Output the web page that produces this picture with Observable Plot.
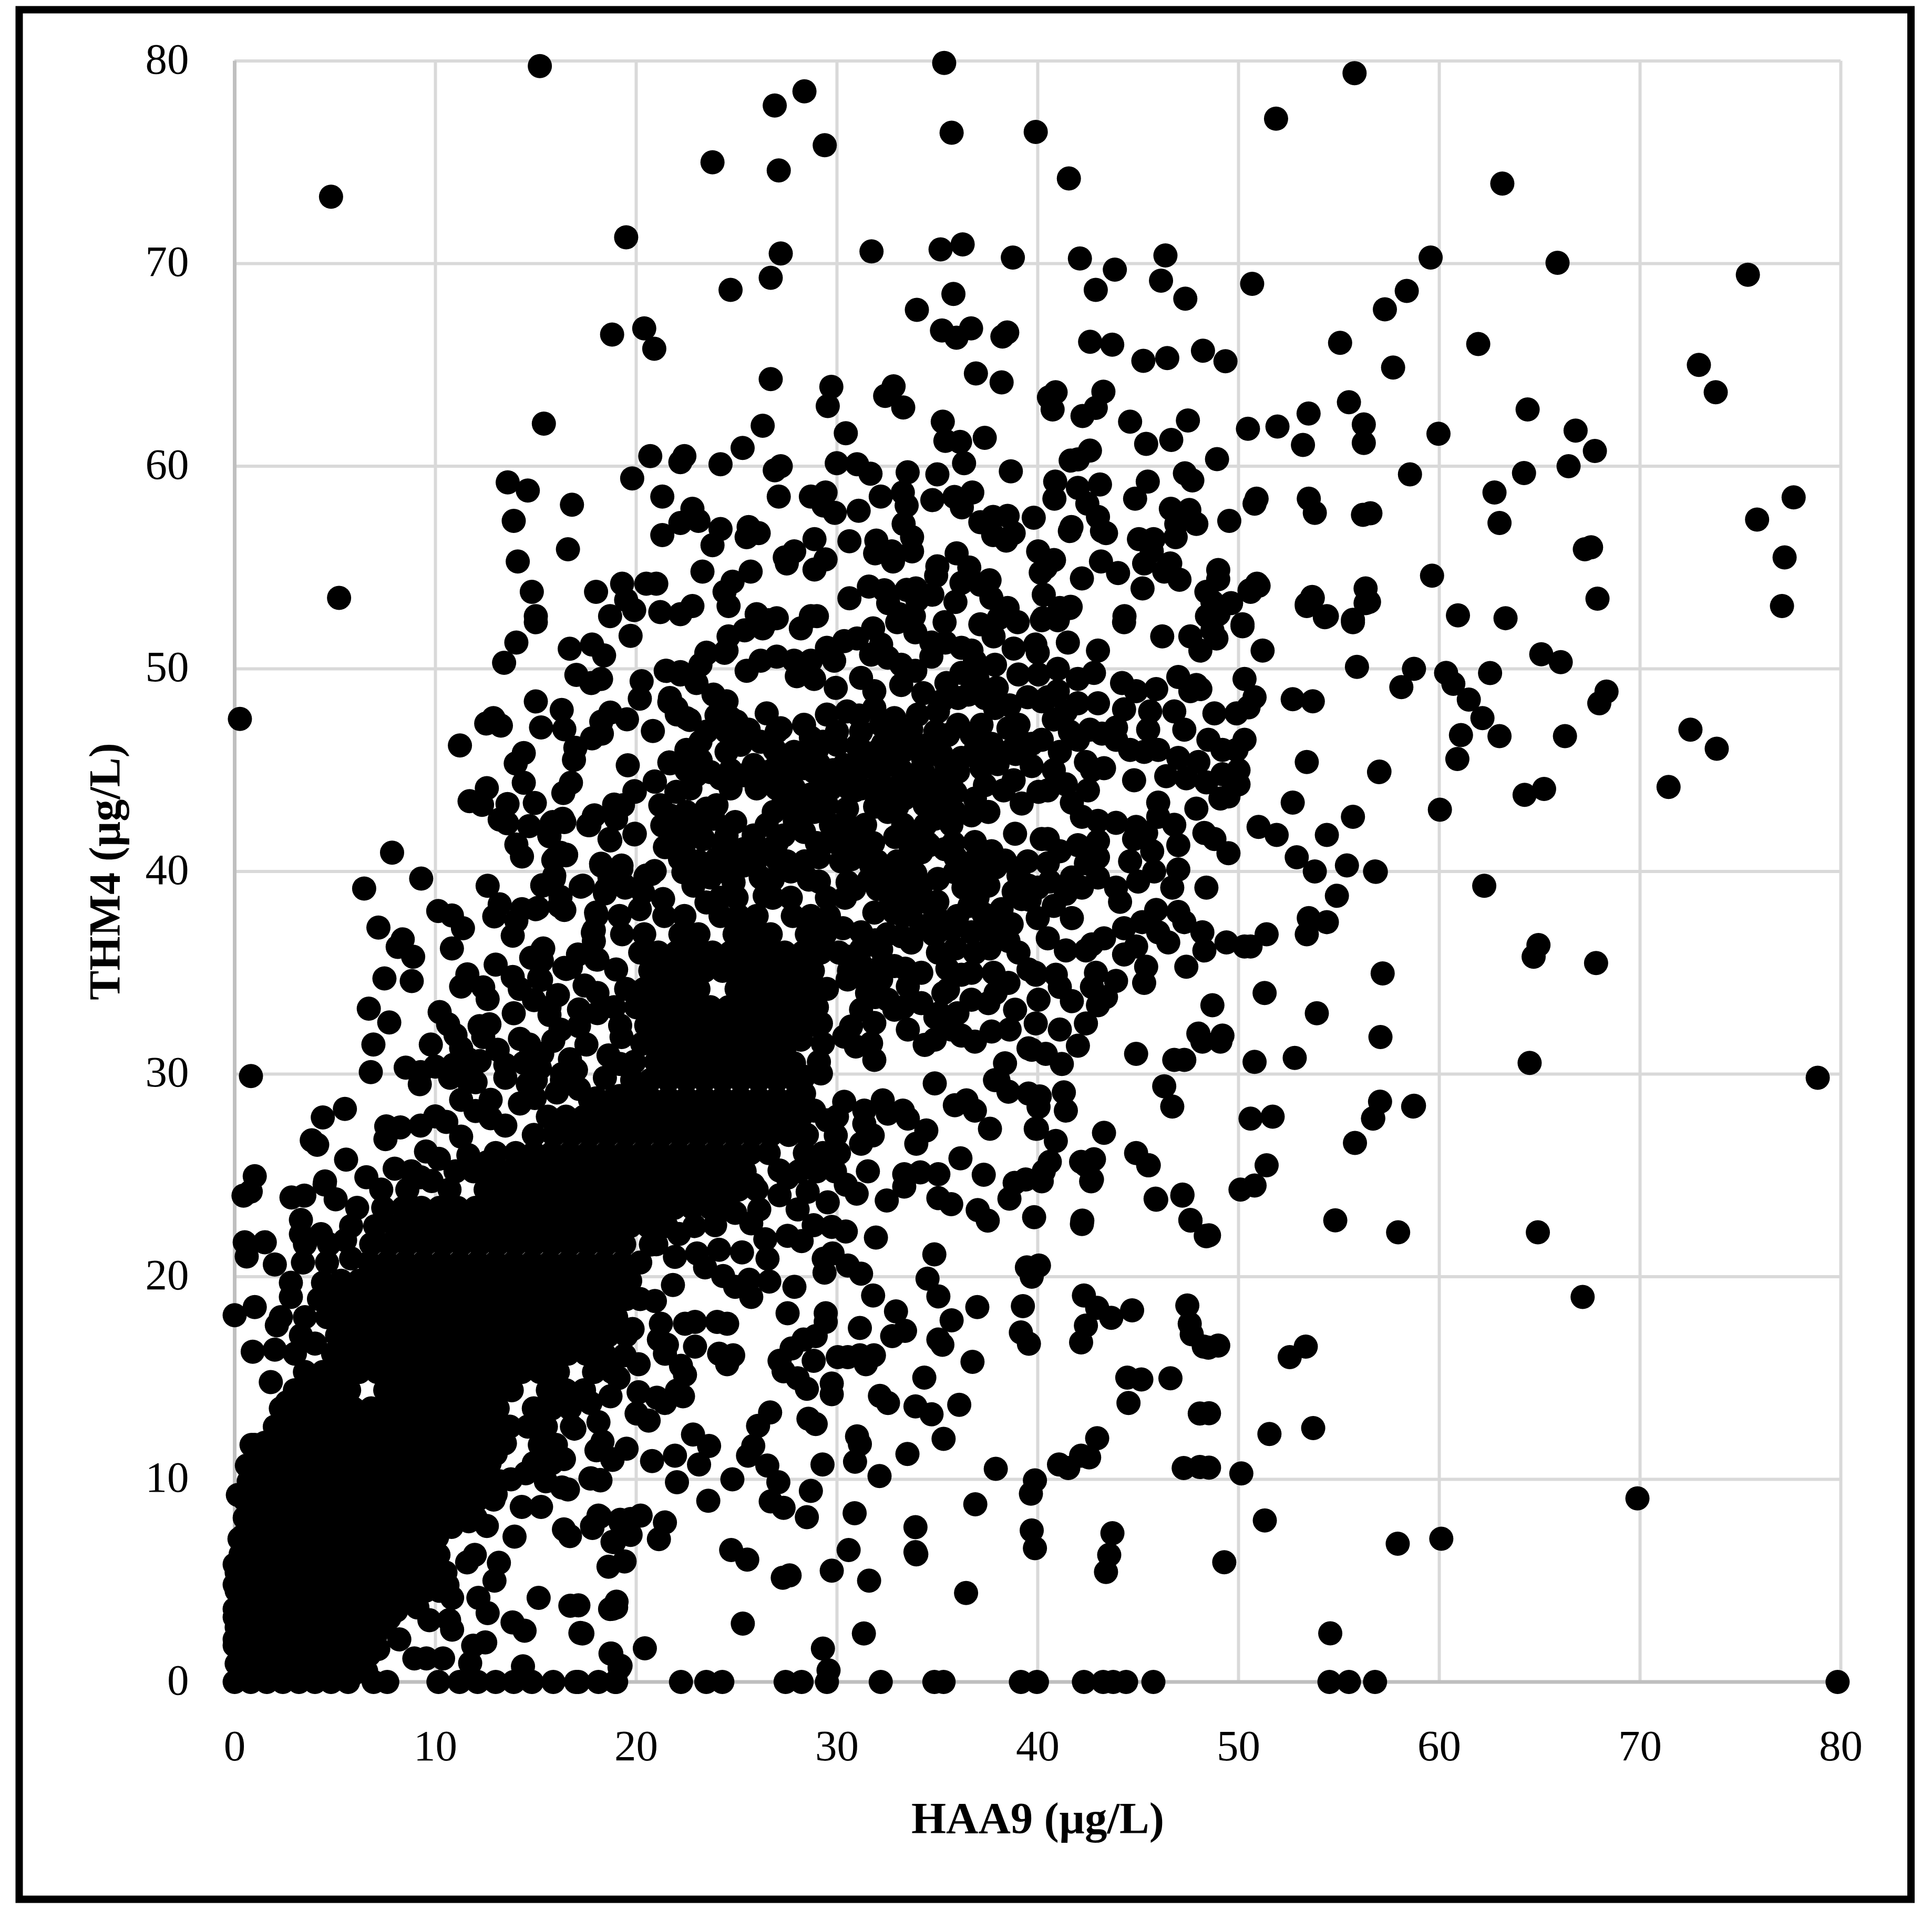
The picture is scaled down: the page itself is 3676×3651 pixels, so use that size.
<!DOCTYPE html>
<html>
<head>
<meta charset="utf-8">
<script src="https://cdn.jsdelivr.net/npm/d3@7"></script>
<script src="https://cdn.jsdelivr.net/npm/@observablehq/plot@0.6"></script>
<style>html,body{margin:0;padding:0;background:#fff}</style>
</head>
<body>
<div id="chart"></div>
<script>
const tickValues = [0,10,20,30,40,50,60,70,80];
const xTitle = "HAA9 (µg/L)";
const yTitle = "THM4 (µg/L)";

// flat lists of HAA9, THM4 pairs
const upperLeft = [15.2,79.75,26.9,77.8,23.8,75,27.1,74.6,4.8,73.3,19.5,71.3,27.2,70.5,26.7,69.3,24.7,68.7,18.8,66.5,20.4,66.8,20.9,65.8,26.7,64.3,15.4,62.1,26.3,62,25.3,60.9,20.7,60.5,22.4,60.5,22.2,60.2,24.2,60.1,26.9,59.8,27.2,60,13.6,59.2,14.6,58.8,19.8,59.4,16.8,58.1,27.1,58.5,21.3,58.5,13.9,57.3,22.8,57.9,22.2,57.2,23.1,57.3,24.2,56.9,21.3,56.6,25.6,57,26.1,56.7,25.5,56.5,23.8,56.1,27.4,55.5,27.5,55.2,14.1,55.3,16.6,55.9,23.3,54.8,25.7,54.8,24.8,54.3,24.4,53.8,14.8,53.8,5.2,53.5,18,53.8,19.3,54.2,20.5,54.2,21,54.2,19.5,53.4,24.6,53.1,15,52.6,18.7,52.6,19.9,52.9,21.2,52.8,22.8,53.1,22.2,52.7,26,52.7,26.6,52.4];
const upperMiddle = [35.34,79.9,55.78,79.4,28.38,78.5,51.87,77.15,29.39,75.84,35.71,76.46,39.9,76.5,41.55,74.2,31.72,70.6,35.16,70.7,36.26,70.95,38.76,70.3,42.1,70.25,43.84,69.7,46.36,70.4,46.14,69.16,42.89,68.7,47.35,68.27,50.68,69,35.8,68.5,33.98,67.72,35.23,66.7,35.95,66.34,36.68,66.8,38.48,66.6,38.24,66.4,42.61,66.14,43.71,66,45.26,65.2,46.45,65.34,48.23,65.7,49.35,65.18,55.06,66.09,36.92,64.58,38.2,64.14,29.72,63.92,29.54,62.97,32.82,63.94,32.4,63.47,33.3,62.9,40.89,63.65,40.56,63.4,40.74,62.8,43.27,63.68,42.89,62.88,42.23,62.48,44.6,62.2,47.48,62.26,45.4,61.1,46.65,61.3,35.27,62.2,35.4,61.25,36.13,61.2,37.36,61.4,30.44,61.63,50.47,61.85,51.94,61.96,53.49,62.6,53.21,61.05,55.5,63.16,56.24,62.06,56.24,61.15,42.6,60.77,41.64,60.28,42,60.34,48.93,60.35,29.99,60.15,31,60.1,31.67,59.63,33.52,59.7,35,59.6,36.33,60.15,38.66,59.75,40.87,59.24,40.83,58.4,47.33,59.65,47.7,59.3,45.48,59.24,44.85,58.4,43.1,59.1,42,58.93,42.47,58.15,43,57.5,43.4,56.7,50.9,58.4,50.8,58.15,53.5,58.4,53.8,57.7,56.2,57.6,49.54,57.3,46.63,57.9,47.55,57.84,47.9,57.15,46.9,57.15,45.04,56.4,45.77,56.4,46.87,56.5,45.68,55.8,45.3,55.2,46.6,55.2,46.3,54.8,47.06,54.4,41.68,57,39.8,57.46,37.14,57.24,37.78,57.5,38.5,57.55,37.78,56.6,38.43,56.33,38.8,56.7,29.43,58.7,28.7,58.5,29.33,58.06,29.89,57.7,31.08,57.8,32.18,58.5,33.28,58.7,33.47,58.06,34.75,58.33,35.85,58.48,36.74,58.7,36.22,57.97,33.32,57.15,33.74,56.5,33.74,55.8,28.88,56.4,30.62,56.3,31.96,56.33,31.9,55.7,32.73,55.8,32.79,55.3,27.87,55.8,29.43,55.4,28.88,54.9,40.02,55.8,40.81,55.37,40.15,54.75,40.3,53.66,41.64,53.06,40.26,52.5,41,52.4,42.2,54.46,43.15,55.3,44,54.73,45.22,53.97,48.99,54.88,48.99,54.42,48.4,53.8,50.92,54.2,50.55,53.87,49.63,53.24,48.43,52.6,53.67,53.55,53.4,53.1,54.3,52.55,56.33,53.97,56.33,53.24,55.7,52.42,50.2,52.2,44.32,52.6,35.96,55.7,35,55.06,36.59,55,36.2,54.24,34.94,54.6,37.6,54.37,37.69,53.5,37.14,54.15,31.59,54.06,32.36,53.88,30.62,53.48,33.93,53.97,33.47,53.9,34.75,53.66,34,53.4,32.55,53.24,33.1,52.7,33.83,52.6,28.7,52.6,35.36,52.3,38.06,52.5,37.14,52.2];
const upperRight = [63.14,73.95,59.57,70.3,65.89,70.04,75.37,69.45,58.38,68.65,57.29,67.74,61.94,66.03,57.7,64.87,72.93,65,73.77,63.65,64.4,62.8,59.96,61.6,66.79,61.76,67.75,60.75,66.44,60,58.54,59.6,64.22,59.66,62.75,58.7,56.57,57.68,63,57.2,67.56,56,67.25,55.9,77.65,58.46,75.83,57.37,77.2,55.5,77.07,53.1,59.64,54.6,67.88,53.46,60.93,52.64,63.3,52.5];
const middleRight = [65.08,50.72,66.05,50.33,58.74,50,60.34,49.8,60.7,49.26,62.53,49.79,58.11,49.1,61.47,48.48,62.15,47.57,68.33,48.88,67.97,48.3,72.51,47,73.82,46.06,61.08,46.73,63,46.68,66.26,46.68,60.9,45.55,57.02,44.93,65.22,44.07,64.25,43.78,71.42,44.17,60.03,43.05,56.84,39.98,62.24,39.29,64.94,36.37,64.7,35.79,67.81,35.48,57.18,34.97,57.07,31.83,64.5,30.55,78.85,29.82,57.05,28.64,56.71,27.82,58.74,28.44];
const lowerRight = [54.82,22.78,57.95,22.19,64.91,22.19,48.53,22.04,67.14,19,48.99,16.6,48.5,16.5,53.35,16.55,52.55,16.03,53.72,12.53,51.54,12.24,48.53,13.26,48.53,10.58,50.14,10.29,69.87,9.06,51.31,7.97,60.1,7.07,57.93,6.82,49.29,5.91,54.57,2.4];
const lowerMiddle = [31.54,25.2,30.44,24.54,30.98,24.1,32.48,23.76,33.35,25.06,33.35,24.45,34.15,25.15,35.05,25.06,36.15,25.84,37.31,25.03,35.05,23.88,35.69,23.58,37.01,23.29,37.51,22.77,38.85,24.63,38.59,23.85,40.2,24.71,39.82,22.94,40.6,25.67,42.16,25.67,42.66,24.71,42.22,22.77,45.53,25.5,45.87,23.85,47.21,24.05,47.61,22.77,48.37,22.02,31.94,21.93,34.85,21.1,34.51,19.9,35.05,19.03,39.46,20.46,40.06,20.55,39.7,20,36.99,18.5,39.26,18.55,35.71,17.85,42.3,19.07,42.96,18.46,43.66,17.97,44.7,18.34,42.4,17.59,42.16,16.76,47.45,18.58,47.57,17.68,47.67,17.16,48.27,16.55,39.16,17.25,39.56,16.69,32.94,18.29,33.39,17.33,32.75,17.07,35.05,16.9,35.25,16.64,36.75,15.8,34.35,15.02,44.46,15.02,45.16,14.93,46.61,14.99,44.52,13.77,48.07,13.25,36.09,13.68,32.14,14.12,32.54,13.77,33.91,13.6,34.71,13.21,35.31,12,33.51,11.25,31.14,17.47,29.44,18.2,29.44,17.77,28.94,17.07,28.34,16.9,27.74,16.46,27.14,15.85,27.34,15.33,28.04,14.99,28.5,14.47,28.84,15.85,30.04,16.03,30.54,16.03,31.14,16.12,31.84,16.12,31.44,15.68,29.74,14.73,29.74,14.2,27.54,18.2,27.88,19.5,29.34,20.89,29.38,20.2,29.78,21.15,30.54,20.55,31.2,20.15,31.8,19.07,26.43,21.85,27.54,22.02,28.24,21.76,28.84,22.54,29.74,22.46,30.44,22.23,26.54,20.89,24.13,21.33,25.27,21.2,23.03,21.15,23.43,20.46,21.93,20.98,24.33,20.03,24.93,19.5,25.73,19,25.63,19.85,26.63,19.76,21.83,19.59,20.93,18.8,19.82,17.42,21.23,17.68,21.13,16.9,21.53,16.64,21.43,16.2,22.23,15.6,22.43,15.16,22.93,17.77,22.43,17.68,22.93,16.55,24.53,17.68,24.03,17.77,24.13,16.2,24.83,16.12,24.53,15.68,19.42,16.12,20.12,15.68,19.12,15,18.72,14.1,20.12,14.3,21.03,14.03,21.43,13.77,22.33,14.1,22.03,14.38,20.02,13.25,20.62,12.9,17.72,13.77,18.12,12.82,18.32,11.86,18.02,11.43,18.82,10.96,19.52,11.51,22.83,12.21,23.63,11.65,21.93,11.17,23.13,10.73,22.03,9.86,20.79,10.9,24.79,10,23.59,8.94,26.67,13.3,26.07,12.64,25.83,11.65,25.57,11.17,26.53,10.68,27.08,9.86,26.7,8.91,27.34,8.59,28.58,12.99,28.94,12.73,29.28,10.73,28.7,9.43,28.5,8.13,31,12.12,31.14,11.74,30.9,10.87,32.12,10.16,30.88,8.33,37.91,10.52,39.86,9.95,39.66,9.29,36.89,8.77,42.96,12.03,42.56,11.08,42.16,11.17,41.52,10.56,41.06,10.73,47.27,10.56,48.07,10.61,33.91,7.64,33.91,6.41,33.95,6.3,39.7,7.48,39.86,6.6,43.72,7.34,43.56,6.27,43.4,5.43,30.58,6.51,29.74,5.49,31.6,5,24.73,6.51,25.53,6.04,27.64,5.26,27.3,5.14,36.43,4.39,25.31,2.88,31.34,2.39,29.3,1.65,29.58,0.57,20.43,1.66,18.76,1.4,19.22,0.8,19.02,3.96,18.82,3.61,17.32,2.39,17.12,3.78,21.43,7.87,21.13,7.05,20.22,8.21,19.72,8.04,19.22,7.86,19.72,7.26,18.82,6.91,18.12,8.21,17.82,7.6,19.42,5.95,18.62,5.69,17.72,10.04,18.22,9.95,25.83,24.54,27.14,25.24,27.54,24.89,28.54,24.19,29.54,23.67,28.04,23.32,25.73,22.63,26.13,23.32,27.14,24.02,23.93,22.54,24.93,23.15,22.13,22.11,20.73,21.59];
const leftEdge = [0.26,47.53,0.81,29.9,7.84,40.93,9.29,39.65,6.45,39.16,14.03,51.3,13.42,50.3,16.69,50.99,17.8,51.2,18.4,50.66,19.72,51.63,15,52.3,17.02,49.7,17.76,49.3,18.25,49.5,20.27,49.39,20.18,48.53,21.47,49.9,22.2,49.84,23.49,50.75,24.4,50.79,15,48.39,16.29,47.97,12.53,47.3,12.89,47.57,13.26,47.2,15.26,47.11,16.42,47.02,18.71,47.84,18.26,47.39,19.54,47.51,18.29,46.8,17.8,46.57,11.22,46.22,20.83,46.93,21.65,48.35,22.02,47.75,22.66,47.48,14.4,45.84,14,45.33,16.97,46.1,16.9,45.51,14.4,44.38,19.58,45.24,16.75,44.38,16.37,43.87,12.56,44.11,11.7,43.47,12.32,43.29,13.59,43.33,14.95,43.38,13.2,42.56,13.57,42.38,14.67,42.24,15.78,42.38,16.42,42.44,17.89,42.75,17.61,42.29,18.71,41.53,19.91,41.83,18.9,43.3,19.91,43.96,20.92,44.44,21.65,45.38,22.48,45.29,23.21,45.47,14.03,41.33,14.31,40.74,15.68,41.74,16.23,40.92,16.51,40.83,15.87,40.56,18.25,40.38,19.27,40.29,18.8,39.74,19.45,39.2,18.44,38.92,20.92,40.02,20.46,39.74,17.24,39.25,15.32,39.32,15.9,39.65,12.6,39.29,16.23,38.74,16.42,38.1,15.1,38.2,14.31,38.14,13.2,38.38,12.93,37.78,14.03,37.56,13.85,36.83,10.14,38.05,10.82,37.83,11.37,37.2,10.82,36.2,7.16,37.23,8.37,36.65,8.12,36.28,8.89,35.79,7.46,34.72,8.82,34.59,15.37,36.2,14.77,35.74,18.03,37.83,17.89,37.1,17.89,36.56,18.07,35.65,16.51,35.19,16.75,35.28,13.85,34.79,15.26,34.65,11.59,34.92,11.28,34.32,12.38,34.28,12.6,33.7,17.43,34.37,18.07,34,14.91,33.65,15.68,33.28,15.68,32.92,17.15,33.19,18.07,33.01,17.15,32.37,16.23,32.19,6.68,33.23,7.7,32.55,10.21,33.06,10.63,32.46,11,31.92,11.28,31.28,12.2,32.37,12.69,32.46,12.38,31.83,6.91,31.46,9.77,31.46,14.21,31.74,14.67,31.46,6.78,30.1,8.52,30.32,9.26,30.1,9.22,29.5,9.99,30.37,10.9,30.46,11.64,30.73,12.2,30.64,10.73,29.82,11.64,29.64,11.28,28.73,13.48,30.46,14.4,30.55,13.48,29.82,15.87,31.64,15.32,31,16.7,30.73,17.52,31.46,18.62,30.92,19.27,31.83,18.44,29.82,19.17,28.92,5.49,28.28,4.39,27.86,3.84,26.73,4.11,26.51,5.55,25.78,1,24.96,0.44,24,6.56,24.91,7.97,25.33,7.55,27.42,7.51,26.79,8.25,27.37,4.48,24.55,2.83,23.91,3.47,24,5.03,23.82,9.99,27.91,9.26,27.46,10.54,27.64,9.53,26.18,10.17,25.82,9.26,24.91,9.81,24.72,11.28,26.91,11.64,26,12.75,28.73,12,28.18,12.75,27.82,13.48,27.46,12.56,25.64,14.21,28.55,14.95,28.82,16.05,29.09,17.15,29.27,17.7,28.73,0.8,24.2,4.5,24.7,1.5,21.7,0.5,21.7,0.6,21,3.3,22.1,4.3,22.1,3.3,22.8,2,20.6,2.8,19.7,2.8,19,2.3,18,1,18.5,0,18.1,0.9,16.3,2,16.4,2.1,17.6,1.8,14.8,2.6,13.8,3.7,14.8,4.4,15.3,4,16.7,4.4,19.7,4.8,19.1,5.5,21.8,5.8,20.9,1.5,11.8,1,11.7];
const centreCluster = [21.5,49.9,22.2,49.72,23,49.3,23.85,48.73,24.5,48.4,24.7,47.57,25,47.4,21.68,48.56,22,48.07,22.5,47.57,23.5,46.9,23.2,46.4,24.5,46.9,24,47.7,23.5,50.8,24.5,50.9,23.2,50.2,25.5,49.9,26.2,50.4,27,50.6,27.86,50.4,28.7,50.4,28,49.64,28.86,49.5,29.94,49.06,29.5,47.74,30.5,47.9,30,46.9,30,46.25,26.5,47.8,27.2,47.07,27,46.9,28.36,47.24,28.7,46.6,27.86,45.9,28.36,45.1,28.2,45.75,25.2,46.25,26.2,46.4,25.85,45.25,26.5,44.9,25.35,44.75,24.5,45.9,24.2,44.6,21.68,45.34,22.35,45.34,23.2,45.5,23,44.76,23.7,44.9,20.93,44.43,19.93,43.93,19.34,43.27,21.2,43.27,22,43.93,22.7,44.1,23.5,43.1,24,43.27,22.5,42.94,21.68,42.77,17.92,42.77,17.67,42.28,18.67,41.6,19.93,41.86,19,42.6,21.3,42.27,22,41.95,22.85,42.1,23.85,42.6,24.93,42.44,24.5,41.78,25.85,41.78,25.35,41.1,21.43,41.2,22.35,41.1,23.35,41.6,15.84,42.44,16.34,42.6,15.67,41.78,16.17,40.87,16.5,40.8,15.92,40.62,18.26,40.29,19.26,40.13,18.67,39.7,19.42,39.3,18.5,39.13,17.34,39.3,20.76,39.88,20.5,39.8,15.92,39.8,15.33,39.3,16.17,38.3,15,38.14,15.33,36.15,15.17,34.75,16.42,35.24,18,37.97,17.84,36.98,18,35.66,19,35.16,19.17,37.8,20.18,38.14,21.34,38.64,20.34,38.97,22.18,40.62,22.35,39.96,22.85,39.3,23.5,38.47,24,40.62,24.5,39.96,24.85,39.46,25.35,40.29,26.2,41.1,27.35,41.78,28.36,41.95,29.2,41.28,26.85,42.94,27.35,43.6,28.86,42.94,29.5,43.27,30.5,43.1,27.86,44.1,28.86,44.92,30.36,45.25,31.53,45.42,32.86,45.25,31.2,44.1,32.86,44.1,31.2,46.9,32.2,47.24,32.86,47.57,31.86,48.07,31.2,49.55,31.86,48.9,32.53,50.55,33.2,50.2,31.7,50.7,32.2,51.2,29.5,51.04,30.36,51.37,29.86,50.4,34.7,51.3,34.7,50.6,34.3,48.8,35.45,49.3,36.54,48.73,37.37,48.56,37.96,49.06,36.03,48.56,34.03,47.74,35.03,47.9,36.03,47.24,35.53,46.74,36.7,46.74,37.87,48.07,37.2,47.24,38.54,47.07,39.04,47.24,39.88,51.2,39.04,49.72,40.04,49.72,40.2,48.4,36.87,50.38,36.2,51.04,37.87,50.2,36.7,50.9,34.53,46.25,36.2,45.6,35.2,44.6,36.03,44.92,37.2,45.1,37.37,44.26,36.87,43.6,37.54,42.94,36.7,42.77,34.37,43.27,34.87,42.6,35.87,42.94,33.36,43.6,32.53,42.94,38.8,44.5,39.2,43.35,38.87,41.86,40.04,43.93,40.2,41.6,38.37,40.54,39.04,39.8,39.54,39.3,39.2,38.64,38.2,38.14,38.54,36.57,39.04,36,38.54,34.5,39.54,35.16,39.88,35,40.04,33.67,38.87,33.18,37.7,32.1,36.87,31.6,39.54,31.27,38.37,30.53,38.04,29.7,36.7,35,36.87,35.99,36.7,37,35.7,37.15,37.04,40.3,37.54,39.3,35.87,39.96,35.03,39.63,34.2,39.3,35.37,41.1,36.87,41.45,34.2,40.95,33.36,40.46,32.7,38.47,32.86,38.97,32.03,39.13,30.86,39.13,30.53,39.46,31.86,37.97,32.86,37.97,34.53,38.47,33.7,38.14,33.7,36.49,35.03,36,34.2,35,35.3,34,35.53,34.17,36.7,33.67,37.54,33.5,34.2,33.5,33.53,32.2,34.37,31.44,34.87,31.7,35.7,32.2,32.2,36.15,31.2,36.15,32.2,35.33,32.86,35.33,30.53,34.67,31.36,34.67,32.53,33.67,33.53,34.33,32.2,34.67,31.2,33.18,31.86,32.52,32.86,33.18,29.2,32.5,30.7,32.35,30.36,31.85,30.94,31.36,31.7,31.52,31.86,30.7,29.2,30.03,28.36,29.87,27.86,30.53,28.2,31.7,27.35,32.35,28.36,29.04,28.86,28.2,29.5,27.72,29.94,26.97,30.36,28.63,31.36,28.2,32.28,28.7,33.28,28.2,33.53,27.8,32.53,28.05,31.36,27.55,31.78,26.97,31.2,26.56,34.45,27.22,33.95,26.56,35.87,28.46,36.45,28.7,36.87,28.2,37.62,27.3,39.96,27.3,34.87,29.54,37.87,29.7,38.54,29.13,39.54,29.04,40.04,28.38,39.7,31.2];
const rightBand = [51,54.1,50.6,53.8,50.2,52.1,51.2,50.9,53.4,53.2,53.7,53.5,54.4,52.6,55.7,52.3,56.5,53.3,55.9,50.1,52.7,48.5,53.7,48.4,50.8,48.6,50.3,49.5,49.9,47.8,50.5,48.1,50.3,46.5,49.9,46,49.2,46,49.2,44.8,50,45,50,44.3,49.1,43.6,49.5,43.7,52.7,43.4,53.4,45.4,51,42.2,51.9,41.8,54.4,41.8,55.7,42.7,57,44.9,52.9,40.7,53.8,40,55.4,40.3,56.8,40,54.9,38.8,53.5,37.7,54.4,37.5,53.4,36.9,51.4,36.9,50.6,36.3,50.3,36.3,49.4,36.5,49.5,40.9,48.8,41.6,48.3,41.9,47.9,43.1,48.4,39.2,48.2,37,48.3,36.1,47.4,35.3,51.3,34,53.9,33,48.7,33.4,48,32,49.1,31.6,49.2,31.9,48.2,31.6,50.8,30.6,52.8,30.8,44.9,31,47.3,30.7,46.8,30.7,46.3,29.4,46.7,28.4,50.6,27.8,51.7,27.9,51.4,25.5,50.8,24.5,50.1,24.3,55.8,26.6,56.7,27.8,58.7,28.4,45.5,25.5,44.9,26.1,45.9,23.8,47.2,24,47.6,22.8,48.4,22,42.2,22.6];
const innerBand = [40.2,52.4,41.5,51.3,41.1,53,40.4,55,41.6,56.8,43.2,56.8,41.6,53,43,50.9,42.8,49.8,42,48.3,41.4,47.9,40.5,48.6,44.2,49.3,44.9,48.9,45.9,49,47,49.6,46.8,47.9,45.6,47.9,47.6,48.9,47.9,49.2,48.1,49,47.6,51.6,48.1,50.9,46.2,51.6,44.3,52.3,48.7,53.3,48.7,51.9,48.9,51.5,49,52.7,48.8,47.8,48.5,46.5,43.9,47.1,44.3,48,44.6,46,43.9,46.5,43.2,46.8,44.8,44.5,46,43.4,42.7,45,43.3,45.1,42.5,44,43,42.5,43.9,42.4,44.9,42.2,45.4,41.9,46.8,42.3,47,41.3,45.7,41,44.8,41.6,46.7,39.2,47,40.1,45.9,38.1,45.2,37.5,44.3,37.2,44.9,36.3,43.9,39.2,43,39.7,42.2,39.2,43,40.7,42.4,40.4,43.3,36.7,42.7,36.4,43.9,34.6,43.4,33.8,42.7,34.3,42.4,32.5,42,31.4,41.1,34.3,39.9,34.9,40.9,34.9,41.1,32.2,39.9,32.5,41.7,33.6,43,33.4,41.4,36.1,40.5,36.7,40.8,38.3,39.6,38.6,41.7,37.7,42.4,36.1,40,39.2,41.1,41,40.5,41.6,41.7,43.4,40.5,44,41.1,45.9,40.2,46.5,42,46.5,42.4,45.4,41.3,29.1,40.1,28.9,41.4,28.2,39.9,27.3,40.9,26.7,40.3,25.2,39.4,24.8,43.3,27.1,42.4,25.5,42.8,25.8,42.7,24.8];
const lowerLeftEdge = [0.84,11.7,1.44,11.5,0.61,10.68,0.16,9.23,0.69,8.4,0.24,7.06,0,5.8,0,4.8,0,3.2,0,2.1,2.19,12.57,13.46,11.78,16.92,12.5,18.1,11.5,18.8,11,16.4,11,17.74,10.05,18.2,9.97,16.3,9.6,16.6,9.5,14.5,10.3,13.76,10,14.3,8.64,15.26,8.64,13,9.26,18.2,8.16,17.8,7.7,19.2,8,18.9,6.9,16.4,7.53,16.7,7.2,13.94,7.17,12.56,7.7,11.66,7.93,11.96,6.27,11.58,5.9,13.16,5.88,12.94,5,10.15,6.27,10.08,7.14,10.83,4.15,10.6,4.78,12.14,4.15,12.6,3.4,15.14,4.15,16.72,3.76,19,3.68,18.7,3.6,17.22,2.42,13.84,2.94,14.44,2.53,18.72,1.4,19.17,0.7,14.36,0.77,12.48,1.95,11.88,1.79,11.73,0.93,10.83,2.58,10.68,3.05,9.7,3.05,9.1,3.68,10.38,1.16,9.55,1.16,8.95,1.16,8.2,2.1,7.15,1.63,8.05,3.52,8.2,5.57,7.6,6.04,6.55,0.53];
const centreFill = [24.6,51.6,25.4,51.9,27,52.5,26.3,52,28.2,52,29,52.6,31,51.5,31.8,52,33,52.3,33.9,51.8,35.4,51.3,37.8,51.6,38.8,51,39,52.3,40,50.8,41,50,42,49.5,38.5,53,35.9,53.3,33.2,49.2,33.9,49.9,35.2,48.4,36.2,49.8,37,49.5,38.6,48.2,39.5,48.6,41,48.9,43,48.3,42.6,47,41.6,46.9,40.8,47.5,39.7,46.3,38.9,45.8,36.9,46,35.2,45.8,34.9,46.9,33.4,47,33.4,46,32.3,46.3,31.1,47.7,31,46.2,29.3,46.4,29.1,45.3,30,44.9,31.1,45,32.1,44.8,33.4,44.7,34.3,44.9,34.3,45.5,35.4,45.4,37.7,46.3,38,45.3,39,46.6,39.7,45.2,40.8,45,41.4,44.3,38.3,44,35.9,43.9,35.1,43.5,34,44,33,43.5,32,43.5,27.9,42.5,28.7,43.8,29.7,42.3,30.5,42,30.9,44,29.5,44.5,27,45.2,27.7,45,23.1,40,23.7,39.7,26.2,39.7,25.9,40.4,27,40.6,26.4,38.8,27.7,40,29.1,39.5,29.1,40.7,30.7,40.6,31.5,41,32.9,41.7,33.9,41.9,34.6,41.3,35.9,40.7,35,38.5,33.9,39.9,31.7,40.3,32.6,40,37.7,41,37.9,40.2,38.8,39,39.5,40.5,40.5,40.4,41.7,39.7,36.3,39.2,36.6,38.3,38,37.5,37.3,37.9,38.7,37.4,40,37.7,40.6,39.5,41.4,38.9,42,41.3,43,41.5,42.2,42.7,45.8,40,46,42.7,47.4,44.6,47,45.6,46,46,46.4,44.7,45.3,45.9,45.5,47,47.3,47,48,45.4,48.4,44.4,47,38,30.3,37.2,31.2,37,31.9,36.6,33.2,36.8,34.2,37.3,34.9,37.9,35,37,35.9,36.2,37.6,36.2,37.8,35,37.9,34,36.2,34.9,35.5,35.2,33.4,35.2,33.7,34.9,31.2,35.4,30.5,35.8,31.9,33.8,31.5,34,33.3,33.3,34.9,32.8,36,33,36.2,31.9,35.1,33,38.6,32.2,40.4,31,41.2,30.5,42.9,35,44.3,35.9,45.3,34.5,45.4,35.3,44.1,38.5,45,39.5,44.6,40.5,46,37,46.5,36.5,47.3,37.5,13.9,33,14.2,34.2,15.2,30.3,16.3,30,17,30.2,18.1,28,19.2,30.5,19.9,29.4,15.3,35.6,13,35.4,12,29.6,13.1,31.2,14.6,29.5,16.1,33.9,17.1,35.9];

// HAA9 readings that sit on the THM4 = 0 line
const onZeroLine = [0,0.8,1.6,2.4,3.2,4,4.8,5.65,6.92,7.6,10.15,11.2,12.1,13,13.9,14.8,15.87,17,17.12,18.12,18.96,19,22.23,23.49,24.29,27.44,28.24,29.5,32.18,34.85,35.31,39.16,39.96,42.3,43.26,43.76,44.4,45.76,54.53,55.5,56.8,79.84];

// the solid part of the cloud, read row by row: THM4, then the HAA9 readings at that height
const solidCorner = [
  [0.45,[0.5,1.4,2.4,3.3,4.2,5.1,6]],
  [1.35,[0.5,1.4,2.3,3.2,4.1,5,5.9,6.7]],
  [2.25,[0.5,1.5,2.4,3.4,4.3,5.2,6.1,7]],
  [3.15,[0.5,1.4,2.3,3.3,4.2,5.1,6,6.9,7.7]],
  [4.05,[0.5,1.5,2.4,3.4,4.3,5.3,6.2,7,7.8,8.9]],
  [4.95,[0.5,1.5,2.4,3.4,4.3,5.2,6.1,7,8.2,9.1,10]],
  [5.85,[0.7,1.6,2.5,3.4,4.3,5.2,6.1,7,8,9.3]],
  [6.75,[0.8,1.7,2.6,3.5,4.4,5.3,6.2,7.1,8,9]],
  [7.65,[0.9,1.8,2.7,3.6,4.5,5.4,6.3,7.2,8.1,9,9.9,10.8]],
  [8.55,[1,1.9,2.8,3.7,4.6,5.5,6.4,7.3,8.2,9.1,10,10.9,11.7]],
  [9.45,[1.2,2.1,3,3.9,4.8,5.7,6.6,7.5,8.4,9.3,10.2,11.1,12,12.8]],
  [10.35,[1.4,2.3,3.2,4.1,5,5.9,6.8,7.7,8.6,9.5,10.4,11.3,12.2]],
  [11.25,[2.2,3.1,4,4.9,5.8,6.7,7.6,8.5,9.4,10.3,11.2,12.1,13]],
  [12.15,[2.4,3.3,4.2,5.1,6,6.9,7.8,8.7,9.6,10.5,11.4,12.3,13.2]]
];
const solidLow = [
  [0.9,[0.1,1,2,2.9,3.8,4.7,5.6]],
  [1.8,[0,0.9,1.8,2.8,3.7,4.6,5.4,6.2]],
  [2.7,[0.1,1.1,2,2.9,3.9,4.8,5.7,6.6,7.4]],
  [3.6,[0,1,1.9,2.8,3.8,4.7,5.6,6.5,7.3]],
  [4.5,[0.1,1,2,3,3.9,4.9,5.8,6.6,7.2,8.6,9.5,10.2]],
  [5.4,[0.1,1,1.9,2.9,3.8,4.7,5.6,6.5,7.2,8.7,9.6,10.5]],
  [6.3,[0.3,1.2,2.1,3,3.9,4.8,5.7,6.6,7.3,8.9,9.7]],
  [7.2,[0.4,1.3,2.2,3.1,4,4.9,5.8,6.7,7.6,8.5,9.4]],
  [8.1,[0.5,1.4,2.3,3.2,4.1,5,5.9,6.8,7.7,8.6,9.5,10.4,11.2,12]],
  [9,[0.5,1.3,2.2,3.1,4,4.9,5.8,6.7,7.6,8.5,9.4,10.3,11.2,12.1,12.9]],
  [9.9,[0.7,1.6,2.5,3.4,4.3,5.2,6.1,7,7.9,8.8,9.7,10.6,11.5,12.4,13.2,15.5]],
  [10.8,[1,1.9,2.8,3.7,4.6,5.5,6.4,7.3,8.2,9.1,10,10.9,11.8,12.7,14.9,15.8]],
  [11.7,[1.8,2.7,3.6,4.5,5.4,6.3,7.2,8.1,9,9.9,10.8,11.7,12.6,15.2,16]],
  [12.6,[2,2.9,3.8,4.7,5.6,6.5,7.4,8.3,9.2,10.1,11,11.9,12.8,13.7,14.6,15.5,16.8]],
  [13.5,[2.3,3.2,4.1,5,5.9,6.8,7.7,8.6,9.5,10.4,11.3,12.2,13.1,14.9,15.8,16.7]],
  [14.4,[3,3.9,4.8,5.7,7.5,8.4,9.3,10.2,11.1,12,12.9,13.8,15.6,16.5,17.4]],
  [15.3,[3.5,5.3,6.2,7.1,8,8.9,9.8,10.7,11.6,12.5,13.4,14.3,15.2,16.1,17.9,18.8]],
  [16.2,[3,4.9,5.8,6.7,7.6,8.5,9.4,10.3,11.2,12.1,13,13.9,14.8,15.7,16.6,17.5,18.4]],
  [17.1,[3.3,5.1,6,6.9,7.8,8.7,9.6,10.5,11.4,12.3,13.2,14.1,15,15.9,16.8,17.7,18.6,19.5]],
  [18,[3.5,4.6,5.5,6.4,7.3,8.2,9.1,10,10.9,11.8,12.7,13.6,14.5,15.4,16.3,17.2,18.1,19]],
  [18.9,[4.2,5.1,6,6.9,7.8,8.7,9.6,10.5,11.4,12.3,13.2,14.1,15,15.9,16.8,17.7,18.6,19.5,20.2]],
  [19.8,[5.3,6.2,7.1,8,8.9,9.8,10.7,11.6,12.5,13.4,14.3,15.2,16.1,17,17.9,18.8,19.7]],
  [20.7,[3.4,4.6,6.7,7.6,8.5,9.4,10.3,11.2,12.1,13,13.9,14.8,15.7,16.6,17.5,18.4,19.3,20.2]]
];
const solidMid = [
  [21.6,[3.5,4.7,6.8,7.7,8.6,9.5,10.4,11.3,12.2,13.1,14,14.9,15.8,16.7,17.6,18.5,19.4,21]],
  [22.5,[5.8,7,8,8.9,9.8,10.7,11.6,12.5,13.4,14.3,15.2,16.1,17,17.9,18.8,19.7,20.6,21.5,22.9]],
  [23.4,[6.1,7.4,8.4,9.3,10.2,11.1,12,12.9,13.8,14.7,15.6,16.5,17.4,18.3,19.2,20.1,21,21.9,22.8,23.7,24.6]],
  [24.3,[7.3,8.6,10.7,12.5,13.4,14.3,15.2,16.1,17,17.9,18.8,19.7,20.6,21.5,22.4,23.3,24.2,25.1,26]],
  [25.2,[8.8,11,11.9,12.8,13.7,14.6,15.5,16.4,17.3,18.2,19.1,20,20.9,21.8,22.7,23.6,24.5,25.4,28.1,29,29.9]],
  [26.1,[13,14,14.9,15.8,16.7,17.6,18.5,19.4,20.3,21.2,22.1,23,23.9,24.8,25.7,26.6,28.4,29.3,30.1]],
  [27,[14.9,15.9,16.8,17.7,18.6,19.5,20.4,21.3,22.2,23.1,24,24.9,25.8,26.7,27.6,28.5]],
  [27.9,[15.6,16.5,17.4,18.3,19.2,20.1,21,21.9,22.8,23.7,24.6,25.5,26.4,27.3,28.2,30]],
  [28.8,[18,18.9,19.8,20.7,21.6,22.5,23.4,24.3,25.2,26.1,27,27.9]],
  [29.7,[15,16.3,19.8,20.7,21.6,22.5,23.4,24.3,25.2,26.1,27,27.9]],
  [30.6,[19.9,21,21.9,22.8,23.7,24.6,25.5,26.4,27.3,29.1]],
  [31.5,[20.3,21.2,22.1,23,23.9,24.8,25.7,26.6,27.5,29.3]],
  [32.4,[19.2,20.5,21.4,22.3,23.2,24.1,25,25.9,26.8,27.7,28.6]],
  [33.3,[18.9,20,21,21.9,22.8,23.7,24.6,25.5,26.4,27.3,28.2,29]],
  [34.2,[19.5,20.4,21.3,22.2,23.1,25,25.9,26.8,27.7,28.6,29.5]],
  [35.1,[20.7,21.6,22.5,23.4,24.3,25.2,26.1,27,27.9,28.8,30.6]],
  [36,[20.2,21.1,22,22.9,23.8,24.7,25.6,26.5,27.4,28.3,29.2,30.1]],
  [36.9,[19.3,20.4,22.2,23.1,24.9,25.8,26.7,28.5,29.4,32.5,34.8,37.6]],
  [37.8,[21.4,22.4,24.2,25.1,26,27.8,28.7,29.6,33.3,36]],
  [38.7,[24.2,25,26.8,27.7,29.5,30.4,33.9,37]],
  [39.6,[26.8,28.6,31.6,33.5,36.6]],
  [40.5,[23.1,24.9,27.5,28.4,30.2,32,33,36.8]],
  [41.4,[24.3,27,29,30,30.9,31.8,33.6,34.5,35.8]],
  [42.3,[23,26.5,30.5,31.4,33.3,34.4,35.7]],
  [43.2,[27.9,28.8,31.9,33,35.2]],
  [44.1,[24.7,26,27,29.7,30.6,32,33.9,34.9]],
  [45,[22.5,24.7,27.3,29.8,30.9,32,33.2,34.2]],
  [46,[22.5,26.9,29,31.2,32.1,33.2,34.2,37.8,38.7]],
  [47,[25.6,32.9,33.7]]
];

const fromPairs = list => d3.range(0, list.length, 2).map(i => ({haa9: list[i], thm4: list[i + 1]}));
const fromRows = rows => rows.flatMap(([thm4, xs]) => xs.map(haa9 => ({haa9, thm4})));
const samples = [
  ...[upperLeft, upperMiddle, upperRight, middleRight, lowerRight, lowerMiddle, leftEdge, centreCluster, rightBand, innerBand, lowerLeftEdge, centreFill].flatMap(fromPairs),
  ...onZeroLine.map(haa9 => ({haa9, thm4: 0})),
  ...fromRows(solidCorner),
  ...fromRows(solidLow),
  ...fromRows(solidMid)
];

const font = "'Liberation Serif', serif";
const chart = Plot.plot({
  width: 3676,
  height: 3651,
  marginLeft: 446,
  marginRight: 174,
  marginTop: 115.5,
  marginBottom: 451.5,
  x: {domain: [0, 80]},
  y: {domain: [0, 80]},
  style: {fontFamily: font, background: "#fff", color: "#000"},
  marks: [
    Plot.frame({
      insetLeft: -410, insetRight: -133.5, insetTop: -97.5, insetBottom: -413.5,
      stroke: "#000", strokeWidth: 14, fill: "none"
    }),
    Plot.ruleX(tickValues.slice(1), {stroke: "#d9d9d9", strokeWidth: 6, strokeOpacity: 1}),
    Plot.ruleY(tickValues.slice(1), {stroke: "#d9d9d9", strokeWidth: 6, strokeOpacity: 1}),
    Plot.ruleX([0], {stroke: "#bfbfbf", strokeWidth: 7, strokeOpacity: 1}),
    Plot.ruleY([0], {stroke: "#bfbfbf", strokeWidth: 7, strokeOpacity: 1}),
    Plot.axisX(tickValues, {tickSize: 0, tickPadding: 90, fontSize: 83, label: null, fontFamily: font}),
    Plot.axisY(tickValues, {tickSize: 0, tickPadding: 87, dy: -3, fontSize: 83, label: null, fontFamily: font}),
    Plot.dot(samples, {x: "haa9", y: "thm4", r: 23, fill: "#000", stroke: "none"}),
    Plot.text([xTitle], {
      frameAnchor: "bottom", dy: 288, lineAnchor: "bottom", textAnchor: "middle",
      fontSize: 85, fontWeight: "bold", fontFamily: font, fill: "#000"
    }),
    Plot.text([yTitle], {
      frameAnchor: "left", dx: -219, rotate: -90, lineAnchor: "bottom", textAnchor: "middle",
      fontSize: 84, fontWeight: "bold", fontFamily: font, fill: "#000"
    })
  ]
});
document.getElementById("chart").appendChild(chart);
</script>
</body>
</html>
